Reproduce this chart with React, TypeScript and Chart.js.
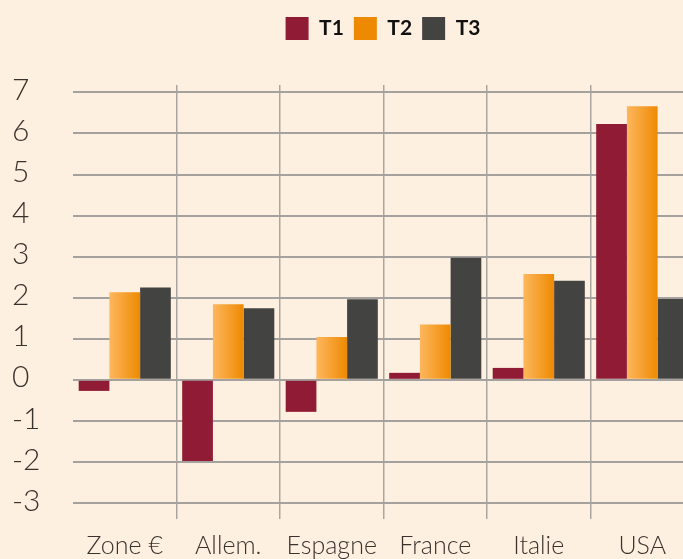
import React, { useEffect, useRef } from 'react';
import { Chart, registerables } from 'chart.js';

Chart.register(...registerables);

const categories = ['Zone €', 'Allem.', 'Espagne', 'France', 'Italie', 'USA'];
const seriesNames = ['T1', 'T2', 'T3'];
const t1Values = [-0.27, -1.98, -0.78, 0.17, 0.29, 6.23];
const t2Values = [2.13, 1.84, 1.04, 1.35, 2.58, 6.66];
const t3Values = [2.25, 1.74, 1.96, 2.97, 2.41, 1.97];
const yMin = -3;
const yMax = 7.18;
const yStep = 1;

const W = 696;
const H = 559;
const BG = '#FEF0E0';
const CAT_PCT = 0.89;
const LEGEND_SHIFT = 30;

function orangeGradient(ctx: CanvasRenderingContext2D, x0: number, x1: number) {
  const g = ctx.createLinearGradient(x0, 0, x1, 0);
  g.addColorStop(0, '#FDB75D');
  g.addColorStop(1, '#EE8A02');
  return g;
}

const legendPlugin = {
  id: 'legendTweak',
  afterLayout(chart: any) {
    const lg = chart.legend;
    if (!lg || !lg.legendItems || !lg.lineWidths) return;
    lg.left += LEGEND_SHIFT;
    lg.right += LEGEND_SHIFT;
    const pad = lg.options.labels.padding;
    const bw = lg.options.labels.boxWidth;
    let x = (lg.left + pad + lg.right - lg.lineWidths[0]) / 2;
    lg.legendItems.forEach((item: any, i: number) => {
      if (i === 1) item.fillStyle = orangeGradient(chart.ctx, x, x + bw);
      x += lg.legendHitBoxes[i].width + pad;
    });
  },
};

export default function App() {
  const ref = useRef<HTMLCanvasElement>(null);

  useEffect(() => {
    if (!ref.current) return;
    const t2Color = (c: any) => {
      const chart = c.chart;
      const area = chart.chartArea;
      if (c.type !== 'data' || !area || !chart.scales.x) return '#F6A23A';
      const xs = chart.scales.x;
      const cx = xs.getPixelForValue(c.dataIndex);
      const cw = (area.right - area.left) / categories.length;
      const w = (cw * CAT_PCT) / 3;
      return orangeGradient(chart.ctx, cx - w / 2, cx + w / 2);
    };
    const chart = new Chart(ref.current, {
      type: 'bar',
      data: {
        labels: categories,
        datasets: [
          { label: seriesNames[0], data: t1Values, backgroundColor: '#8F1B34' },
          { label: seriesNames[1], data: t2Values, backgroundColor: t2Color },
          { label: seriesNames[2], data: t3Values, backgroundColor: '#434341' },
        ],
      },
      plugins: [legendPlugin],
      options: {
        responsive: false,
        animation: false,
        devicePixelRatio: 1,
        layout: { padding: { top: 7, left: 12, right: 2, bottom: 0 } },
        datasets: {
          bar: { categoryPercentage: CAT_PCT, barPercentage: 1, borderWidth: 0 },
        },
        plugins: {
          tooltip: { enabled: false },
          legend: {
            position: 'top',
            labels: {
              boxWidth: 23,
              boxHeight: 23,
              padding: 10,
              color: '#111111',
              font: { family: 'Lato', size: 21, weight: 'bold' },
            },
          },
          title: {
            display: true,
            text: '',
            weight: 500,
            padding: 0,
            font: { size: 35, lineHeight: 1 },
          },
        },
        scales: {
          x: {
            border: { display: false },
            grid: {
              offset: true,
              color: (c: any) => (c.index === 0 ? 'rgba(0,0,0,0)' : '#A9A6A2'),
              lineWidth: 1.5,
              tickLength: 16,
            },
            ticks: {
              color: '#3A322D',
              padding: 12,
              font: { family: 'Lato', size: 25, weight: '300' },
            },
            afterFit: (s: any) => {
              s.height = 56;
            },
          },
          y: {
            min: yMin,
            max: yMax,
            border: { display: false },
            grid: { color: '#A4A19E', lineWidth: 2, drawTicks: false },
            ticks: {
              stepSize: yStep,
              includeBounds: false,
              crossAlign: 'far',
              labelOffset: -2,
              color: '#3A322D',
              font: { family: 'Lato', size: 30, weight: '300' },
            },
            afterFit: (s: any) => {
              s.width = 61;
            },
          },
        },
      },
    });
    return () => chart.destroy();
  }, []);

  return (
    <div
      style={{
        position: 'fixed',
        left: 0,
        top: 0,
        width: 683,
        height: 559,
        overflow: 'hidden',
        background: BG,
      }}
    >
      <canvas ref={ref} width={W} height={H} style={{ display: 'block', width: W, height: H }} />
    </div>
  );
}
